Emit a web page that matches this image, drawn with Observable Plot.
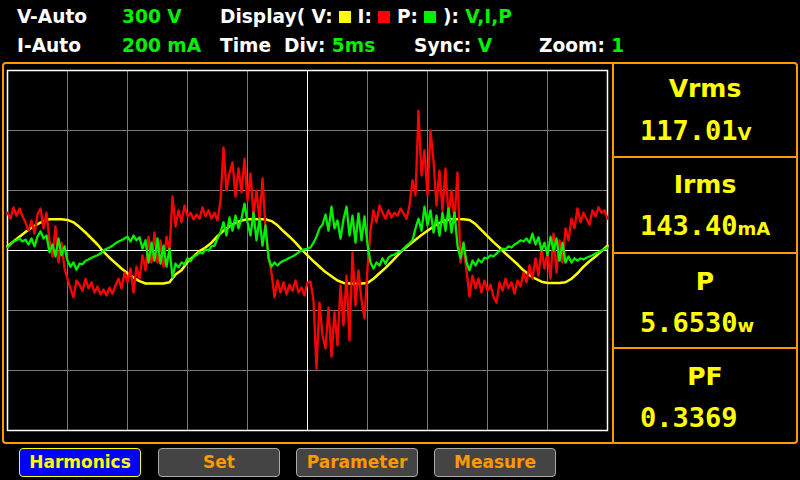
<!DOCTYPE html>
<html><head><meta charset="utf-8">
<script src="https://cdn.jsdelivr.net/npm/d3@7"></script>
<script src="https://cdn.jsdelivr.net/npm/@observablehq/plot@0.6"></script>
<style>
html,body{margin:0;padding:0;background:#000;}
body{width:800px;height:480px;overflow:hidden;position:relative;font-family:"DejaVu Sans",sans-serif;}
.t{position:absolute;font-weight:bold;font-size:18.6px;line-height:18px;white-space:pre;color:#fff;}
.g{color:#00f000;}
.sq{display:inline-block;width:12px;height:12px;vertical-align:0px;}
#frame{position:absolute;left:2px;top:62px;width:792px;height:378px;border:2px solid #ff9900;border-radius:4px;}
#vdiv{position:absolute;left:612px;top:62px;width:2px;height:380px;background:#ff9900;}
.hdiv{position:absolute;left:613px;width:183px;height:2px;background:#ff9900;}
.ttl{position:absolute;left:613px;width:184px;text-align:center;font-weight:bold;font-size:25px;line-height:25px;color:#ffff00;}
.val{position:absolute;left:640px;font-family:"DejaVu Sans Mono",monospace;font-weight:bold;font-size:27px;line-height:27px;color:#ffff00;white-space:pre;}
.val span{font-family:"DejaVu Sans",sans-serif;font-size:18px;}
.btn{position:absolute;top:448px;height:29px;width:122px;border-radius:4px;box-sizing:border-box;text-align:center;font-weight:bold;font-size:17px;line-height:27px;}
.btn.on{background:#0000ff;border:1px solid #ffff00;color:#ffff00;}
.btn.off{background:#444;border:1px solid #aaa;color:#ff9900;}
#plot{position:absolute;left:5px;top:68px;}
</style>
</head><body>
<div class="t" style="left:17px;top:8px">V-Auto</div>
<div class="t g" style="left:122px;top:8px">300 V</div>
<div class="t" style="left:220px;top:8px">Display( V: <span class="sq" style="background:#ffff00"></span> I: <span class="sq" style="background:#ff0000"></span> P: <span class="sq" style="background:#00f000"></span> ): <span class="g">V,I,P</span></div>
<div class="t" style="left:17px;top:37px">I-Auto</div>
<div class="t g" style="left:122px;top:37px">200 mA</div>
<div class="t" style="left:220px;top:37px">Time  Div: <span class="g">5ms</span></div>
<div class="t" style="left:414px;top:37px">Sync: <span class="g">V</span></div>
<div class="t" style="left:539px;top:37px">Zoom: <span class="g">1</span></div>

<div id="frame"></div>
<div id="vdiv"></div>
<div class="hdiv" style="top:156px"></div>
<div class="hdiv" style="top:252px"></div>
<div class="hdiv" style="top:347px"></div>

<div class="ttl" style="top:76px">Vrms</div>
<div class="val" style="top:117px">117.01<span>V</span></div>
<div class="ttl" style="top:172px">Irms</div>
<div class="val" style="top:212px">143.40<span>mA</span></div>
<div class="ttl" style="top:269px">P</div>
<div class="val" style="top:309px">5.6530<span>w</span></div>
<div class="ttl" style="top:364px">PF</div>
<div class="val" style="top:404px">0.3369</div>

<div class="btn on" style="left:19px">Harmonics</div>
<div class="btn off" style="left:158px">Set</div>
<div class="btn off" style="left:296px">Parameter</div>
<div class="btn off" style="left:434px">Measure</div>

<div id="plot"></div>
<script>
// Scope settings: 300 V/div, 200 mA/div, 5 ms/div; 10 x 6 divisions.
// All trace values below are in screen divisions (centre line = 0).
const timePerDiv = 5;          // ms
const xDivisions = [0,5,10,15,20,25,30,35,40,45,50]; // ms grid
const yDivisions = [-3,-2,-1,0,1,2,3];
const vStep = 0.5;             // ms between voltage samples
const iStep = 0.25;            // ms between current samples
const pStep = 0.25;            // ms between power samples

const voltage = [
 0.07,0.15,0.23,0.31,0.38,0.44,0.49,0.52,0.52,0.52,
 0.51,0.47,0.39,0.30,0.20,0.10,-0.02,-0.12,-0.21,-0.30,
 -0.38,-0.45,-0.51,-0.55,-0.55,-0.55,-0.55,-0.53,-0.40,-0.33,
 -0.19,-0.10,-0.01,0.05,0.13,0.24,0.33,0.40,0.46,0.50,
 0.52,0.52,0.52,0.52,0.49,0.42,0.32,0.23,0.13,0.02,
 -0.08,-0.18,-0.27,-0.36,-0.43,-0.50,-0.54,-0.55,-0.55,-0.55,
 -0.54,-0.47,-0.38,-0.29,-0.19,-0.08,0.02,0.10,0.18,0.26,
 0.33,0.40,0.46,0.50,0.52,0.52,0.52,0.51,0.44,0.34,
 0.24,0.14,0.05,-0.05,-0.14,-0.23,-0.33,-0.41,-0.47,-0.52,
 -0.54,-0.54,-0.54,-0.53,-0.47,-0.38,-0.27,-0.18,-0.10,-0.01,
 0.08
];

const current = [
 0.63,0.53,0.72,0.58,0.70,0.57,0.47,0.33,0.50,0.28,
 0.60,0.70,0.37,0.63,0.17,-0.10,0.40,-0.20,0.13,-0.30,
 -0.47,-0.63,-0.78,-0.50,-0.57,-0.67,-0.47,-0.63,-0.53,-0.70,
 -0.60,-0.73,-0.65,-0.75,-0.62,-0.72,-0.58,-0.47,-0.63,-0.37,
 -0.53,-0.30,-0.70,-0.27,-0.47,-0.08,-0.33,0.23,-0.20,0.30,
 -0.20,0.17,-0.27,0.23,0.00,0.90,0.40,0.67,0.47,0.75,
 0.57,0.63,0.52,0.60,0.53,0.72,0.57,0.67,0.53,0.63,
 0.50,0.83,1.72,1.00,1.30,1.47,0.90,1.37,0.97,1.53,
 0.83,1.28,0.58,1.00,0.50,1.20,0.37,-0.08,-0.37,-0.78,
 -0.50,-0.70,-0.53,-0.73,-0.57,-0.67,-0.50,-0.70,-0.62,-0.75,
 -0.53,-0.52,-0.83,-1.97,-0.87,-1.42,-1.63,-0.95,-1.77,-1.03,
 -1.58,-0.58,-1.25,-0.42,-1.50,-0.03,-0.92,-0.33,-0.83,-1.13,
 -0.30,0.33,0.67,0.47,0.75,0.63,0.53,0.67,0.55,0.63,
 0.58,0.70,0.62,0.53,0.75,1.17,0.92,2.33,1.25,1.67,
 0.92,2.00,1.50,0.75,1.33,0.67,1.37,0.58,1.00,0.50,
 1.30,-0.20,0.08,-0.33,-0.77,-0.42,-0.63,-0.47,-0.70,-0.50,
 -0.67,-0.57,-0.77,-0.87,-0.53,-0.67,-0.47,-0.63,-0.53,-0.72,
 -0.50,-0.60,-0.37,-0.53,-0.25,-0.47,-0.13,-0.42,0.03,-0.30,
 -0.03,-0.47,0.28,-0.37,0.17,-0.20,0.37,0.17,0.53,0.37,
 0.70,0.47,0.63,0.53,0.43,0.67,0.57,0.72,0.63,0.67,
 0.53
];

const power = [
 0.05,0.10,0.15,0.17,0.20,0.15,0.18,0.10,0.20,0.07,
 0.23,0.32,0.20,0.25,-0.03,0.10,-0.10,0.20,-0.08,0.07,
 -0.17,-0.27,-0.20,-0.32,-0.22,-0.23,-0.17,-0.15,-0.12,-0.10,
 -0.08,-0.05,0.00,0.03,0.05,0.08,0.12,0.15,0.17,0.20,
 0.23,0.15,0.25,0.17,0.22,0.03,0.17,-0.20,0.13,-0.17,
 0.20,-0.22,0.08,-0.27,0.03,-0.45,-0.22,-0.28,-0.20,-0.23,
 -0.13,-0.18,-0.10,-0.08,-0.03,-0.05,0.02,0.00,0.07,0.08,
 0.20,0.30,0.47,0.25,0.55,0.33,0.58,0.37,0.53,0.78,
 0.47,0.25,0.63,0.17,0.53,0.08,0.42,-0.13,-0.27,-0.20,
 -0.25,-0.20,-0.17,-0.15,-0.12,-0.10,-0.07,-0.03,0.00,0.02,
 0.03,0.05,0.13,0.23,0.37,0.43,0.60,0.33,0.73,0.37,
 0.50,0.20,0.52,0.73,0.25,0.58,0.13,0.62,0.17,0.57,
 0.10,-0.20,-0.30,-0.20,-0.25,-0.13,-0.22,-0.12,-0.08,-0.07,
 -0.03,-0.02,0.03,0.08,0.12,0.17,0.37,0.53,0.33,0.73,
 0.42,0.67,0.30,0.58,0.25,0.63,0.33,0.70,0.30,0.63,
 0.08,-0.13,0.13,-0.20,-0.33,-0.17,-0.25,-0.15,-0.20,-0.12,
 -0.13,-0.08,-0.10,-0.05,0.00,0.03,0.02,0.07,0.05,0.10,
 0.13,0.17,0.15,0.20,0.13,0.28,0.10,0.22,0.00,0.13,
 -0.08,0.23,0.00,0.20,-0.17,0.13,-0.20,-0.10,-0.20,-0.13,
 -0.17,-0.13,-0.15,-0.12,-0.10,-0.08,-0.05,-0.03,0.00,0.02,
 0.05
];

const toRows = (arr, step) => arr.map((v, i) => ({t: i * step, v}));
const vData = toRows(voltage, vStep);
const iData = toRows(current, iStep);
const pData = toRows(power, pStep);

const grey = "#7a7a7a";
const chart = Plot.plot({
  width: 604, height: 364,
  marginTop: 2, marginBottom: 2, marginLeft: 2, marginRight: 2,
  style: {background: "black"},
  x: {domain: [0, 10 * timePerDiv], axis: null},
  y: {domain: [-3, 3], axis: null},
  marks: [
    Plot.ruleX(xDivisions.filter(d => d !== 0 && d !== 25 && d !== 50), {stroke: grey, strokeWidth: 1}),
    Plot.ruleY(yDivisions.filter(d => d !== 0 && Math.abs(d) !== 3), {stroke: grey, strokeWidth: 1}),
    Plot.ruleX([25], {stroke: "white", strokeWidth: 1}),
    Plot.ruleY([0], {stroke: "white", strokeWidth: 1}),
    Plot.frame({stroke: "white", strokeWidth: 1.5}),
    Plot.line(vData, {x: "t", y: "v", stroke: "#ffff00", strokeWidth: 2.5}),
    Plot.line(iData, {x: "t", y: "v", stroke: "#ff0000", strokeWidth: 2.3}),
    Plot.line(pData, {x: "t", y: "v", stroke: "#00f000", strokeWidth: 2.3})
  ]
});
document.getElementById("plot").appendChild(chart);
</script>
</body></html>
